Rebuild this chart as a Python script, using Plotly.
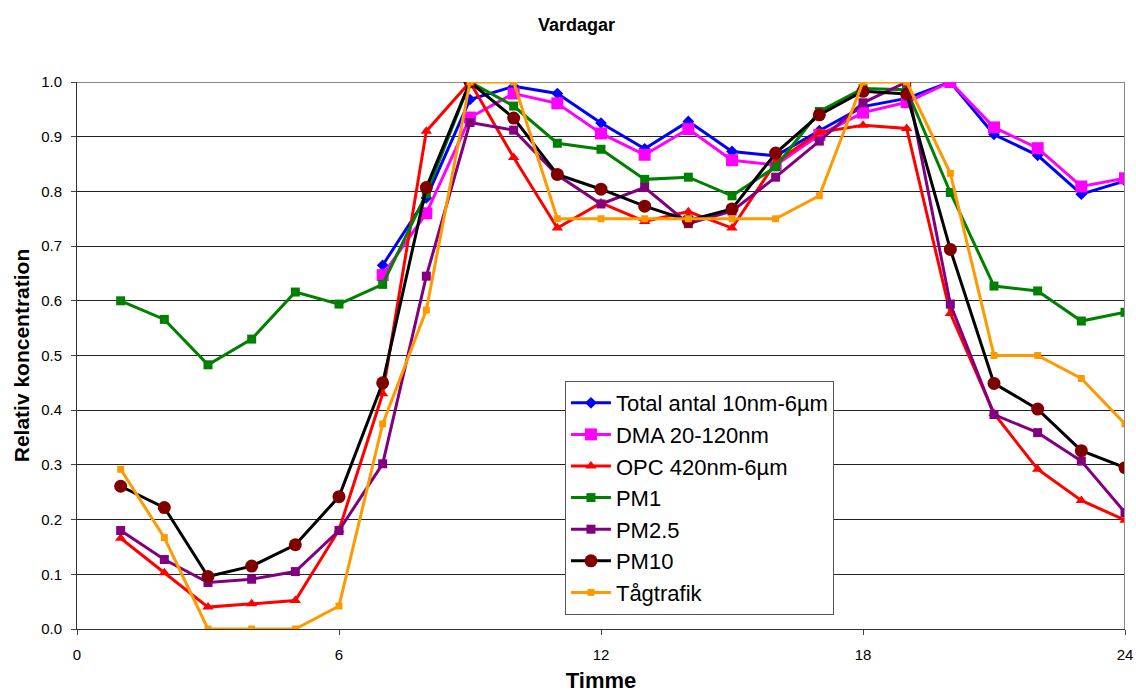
import plotly.graph_objects as go

hours = list(range(1, 25))
hours_from7 = list(range(7, 25))

total_antal = [0.665, 0.788, 0.968, 0.992, 0.979, 0.925, 0.878, 0.928, 0.873, 0.865, 0.911,
               0.955, 0.970, 1.0, 0.904, 0.866, 0.795, 0.819]
dma = [0.647, 0.760, 0.935, 0.979, 0.961, 0.906, 0.867, 0.914, 0.857, 0.848, 0.903,
       0.944, 0.963, 1.0, 0.917, 0.879, 0.809, 0.824]
opc = [0.166, 0.103, 0.040, 0.046, 0.052, 0.181, 0.430, 0.910, 1.0, 0.862, 0.733, 0.779,
       0.745, 0.763, 0.733, 0.853, 0.908, 0.921, 0.915, 0.577, 0.394, 0.292, 0.235, 0.199]
pm1 = [0.600, 0.566, 0.483, 0.530, 0.616, 0.594, 0.630, 0.796, 1.0, 0.956, 0.888, 0.877,
       0.822, 0.826, 0.792, 0.845, 0.946, 0.988, 0.986, 0.798, 0.627, 0.618, 0.563, 0.579]
pm25 = [0.180, 0.127, 0.085, 0.091, 0.105, 0.180, 0.302, 0.645, 0.926, 0.912, 0.830, 0.777,
        0.807, 0.741, 0.764, 0.826, 0.892, 0.962, 1.0, 0.594, 0.392, 0.359, 0.307, 0.213]
pm10 = [0.261, 0.222, 0.096, 0.115, 0.154, 0.242, 0.450, 0.807, 1.0, 0.934, 0.831, 0.804,
        0.773, 0.747, 0.768, 0.870, 0.940, 0.983, 0.978, 0.694, 0.449, 0.402, 0.326, 0.295]
tag = [0.292, 0.167, 0.0, 0.0, 0.0, 0.042, 0.375, 0.583, 1.0, 1.0, 0.750, 0.750,
       0.750, 0.750, 0.750, 0.750, 0.792, 1.0, 1.0, 0.833, 0.500, 0.500, 0.458, 0.375]

x_ticks = [0, 6, 12, 18, 24]
y_ticks = [i / 10 for i in range(11)]

FONT = "Arial, Liberation Sans, sans-serif"

series = [
    ("Total antal 10nm-6µm", hours_from7, total_antal, "#0000FF", "#0000FF", "diamond", 9),
    ("DMA 20-120nm", hours_from7, dma, "#FF00FF", "#FF00FF", "square", 12),
    ("OPC 420nm-6µm", hours, opc, "#FF0000", "#FF0000", "triangle-up", 10),
    ("PM1", hours, pm1, "#008000", "#008000", "square", 9),
    ("PM2.5", hours, pm25, "#800080", "#800080", "square", 9),
    ("PM10", hours, pm10, "#000000", "#800000", "circle", 13),
    ("Tågtrafik", hours, tag, "#FF9900", "#FF9900", "square", 7),
]

fig = go.Figure()
for i, (name, xs, ys, lc, mc, sym, sz) in enumerate(series):
    fig.add_trace(go.Scatter(
        x=xs, y=ys, name=name, mode="lines+markers",
        line=dict(color=lc, width=3),
        marker=dict(color=mc, symbol=sym, size=sz, line=dict(width=0)),
        legendgroup=f"g{i}",
    ))

fig.update_layout(
    width=1136, height=693,
    paper_bgcolor="white", plot_bgcolor="white",
    margin=dict(l=77, r=11, t=82, b=64, autoexpand=False),
    font=dict(family=FONT, size=15, color="black"),
    title=dict(text="<b>Vardagar</b>", x=0.4766, xref="paper", y=0.964, yref="container",
               xanchor="center", yanchor="middle", font=dict(size=18, family=FONT)),
    showlegend=True,
    legend=dict(x=0.4656, y=0.4534, xanchor="left", yanchor="top",
                bgcolor="white", bordercolor="#555555", borderwidth=1,
                font=dict(size=22, family=FONT), tracegroupgap=0,
                itemwidth=40),
    xaxis=dict(range=[0, 24], tickvals=x_ticks, ticks="outside", ticklen=5,
               showgrid=False, showline=True, linecolor="#333333", linewidth=1,
               mirror=False, zeroline=False, automargin=False,
               ticklabelstandoff=7,
               title=dict(text="<b>Timme</b>", font=dict(size=22, family=FONT), standoff=14),
               tickfont=dict(size=15)),
    yaxis=dict(range=[0, 1.0], tickvals=y_ticks, tickformat=".1f", ticks="outside", ticklen=5,
               showgrid=True, gridcolor="#222222", gridwidth=1, automargin=False,
               showline=True, linecolor="#333333", linewidth=1, zeroline=False,
               ticklabelstandoff=6,
               title=dict(text="<b>Relativ koncentration</b>", font=dict(size=21, family=FONT), standoff=5),
               tickfont=dict(size=15)),
)

# right and top border of plot area (gray)
fig.add_shape(type="line", xref="x", yref="paper", x0=24, x1=24, y0=0, y1=1,
              line=dict(color="#888888", width=2))
fig.add_shape(type="line", xref="paper", yref="y", x0=0, x1=1, y0=1, y1=1,
              line=dict(color="#888888", width=2), layer="below")

fig.write_html("out.html")
